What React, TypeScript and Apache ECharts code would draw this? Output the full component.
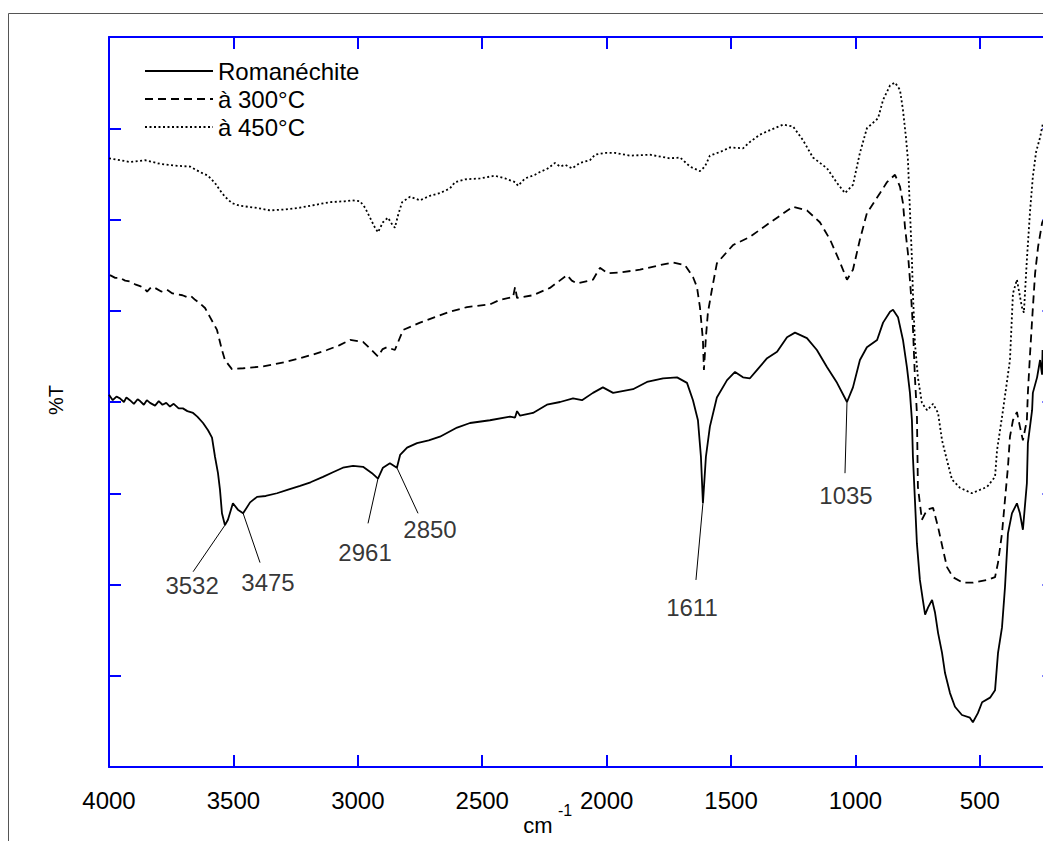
import { useEffect, useRef } from 'react';
import * as echarts from 'echarts';

const SERIES_NAMES = ['Romanéchite', 'à 300°C', 'à 450°C'];
const X_TICKS = [500, 1000, 1500, 2000, 2500, 3000, 3500, 4000];
const X_MIN = 200;
const X_MAX = 4000;
const Y_MIN = 0;
const Y_MAX = 8;

const romanechite: [number, number][] = [
  [4000, 4.08], [3985, 4.02], [3970, 4.06], [3956, 4.04], [3940, 4.0], [3930, 4.05], [3916, 4.02],
  [3900, 3.98], [3885, 4.03], [3875, 4.01], [3860, 3.97], [3848, 4.02], [3835, 3.99], [3815, 3.96],
  [3800, 4.01], [3785, 3.97], [3770, 3.99], [3755, 3.95], [3740, 3.98], [3720, 3.93], [3703, 3.93],
  [3685, 3.9], [3662, 3.88], [3645, 3.84], [3622, 3.77], [3602, 3.69], [3586, 3.61], [3574, 3.4],
  [3562, 3.22], [3554, 3.04], [3546, 2.78], [3534, 2.65], [3522, 2.71], [3502, 2.89], [3482, 2.82],
  [3461, 2.78], [3433, 2.9], [3405, 2.96], [3370, 2.97], [3325, 3.0], [3280, 3.04], [3232, 3.08],
  [3190, 3.12], [3140, 3.18], [3100, 3.23], [3060, 3.28], [3019, 3.3], [2979, 3.29], [2943, 3.22],
  [2919, 3.16], [2899, 3.28], [2871, 3.33], [2843, 3.28], [2830, 3.42], [2802, 3.5], [2762, 3.55],
  [2715, 3.58], [2670, 3.62], [2601, 3.72], [2549, 3.77], [2469, 3.8], [2388, 3.84], [2368, 3.83],
  [2360, 3.9], [2348, 3.85], [2296, 3.88], [2240, 3.97], [2187, 4.0], [2135, 4.04], [2099, 4.02],
  [2055, 4.1], [2015, 4.16], [1974, 4.1], [1894, 4.14], [1838, 4.22], [1773, 4.26], [1717, 4.27],
  [1677, 4.21], [1653, 4.02], [1633, 3.8], [1621, 3.4], [1613, 2.89], [1601, 3.4], [1585, 3.73],
  [1557, 4.05], [1516, 4.24], [1484, 4.33], [1452, 4.27], [1424, 4.26], [1396, 4.35], [1355, 4.48],
  [1315, 4.55], [1275, 4.71], [1243, 4.76], [1195, 4.7], [1155, 4.57], [1114, 4.38], [1074, 4.21],
  [1034, 4.0], [1010, 4.16], [982, 4.46], [954, 4.6], [913, 4.68], [889, 4.87], [861, 4.99],
  [849, 5.01], [829, 4.93], [809, 4.68], [793, 4.38], [781, 4.1], [773, 3.8], [769, 3.4], [761, 2.93],
  [753, 2.45], [741, 2.05], [729, 1.83], [720, 1.67], [708, 1.75], [692, 1.83], [680, 1.69],
  [668, 1.47], [652, 1.25], [640, 1.03], [620, 0.81], [600, 0.66], [572, 0.57], [540, 0.54],
  [528, 0.49], [508, 0.59], [491, 0.71], [459, 0.76], [439, 0.84], [427, 1.25], [411, 1.53],
  [399, 1.97], [387, 2.56], [371, 2.78], [351, 2.89], [339, 2.78], [327, 2.6], [311, 3.11],
  [307, 3.55], [290, 3.91], [287, 4.1], [270, 4.27], [258, 4.46], [250, 4.3], [248, 4.57], [246, 4.57],
];

const heated300: [number, number][] = [
  [3996, 5.39], [3975, 5.36], [3956, 5.36], [3935, 5.33], [3916, 5.32], [3895, 5.29], [3875, 5.27],
  [3860, 5.25], [3847, 5.21], [3830, 5.26], [3815, 5.25], [3790, 5.21], [3767, 5.23], [3745, 5.19],
  [3727, 5.18], [3705, 5.17], [3687, 5.15], [3670, 5.16], [3654, 5.12], [3634, 5.08], [3614, 5.03],
  [3594, 4.93], [3566, 4.79], [3546, 4.57], [3534, 4.46], [3506, 4.36], [3460, 4.37], [3421, 4.38],
  [3380, 4.39], [3341, 4.41], [3290, 4.44], [3232, 4.48], [3180, 4.52], [3124, 4.57], [3075, 4.62],
  [3031, 4.68], [2979, 4.66], [2945, 4.57], [2919, 4.5], [2900, 4.58], [2883, 4.6], [2851, 4.57],
  [2818, 4.79], [2750, 4.87], [2690, 4.93], [2630, 4.99], [2561, 5.04], [2469, 5.07], [2429, 5.12],
  [2376, 5.15], [2368, 5.26], [2360, 5.14], [2296, 5.17], [2228, 5.25], [2159, 5.39], [2140, 5.33],
  [2119, 5.3], [2055, 5.34], [2027, 5.47], [1995, 5.41], [1946, 5.42], [1866, 5.45], [1786, 5.5],
  [1733, 5.53], [1685, 5.5], [1653, 5.37], [1637, 5.26], [1625, 5.04], [1613, 4.68], [1609, 4.35],
  [1601, 4.71], [1593, 4.98], [1577, 5.23], [1557, 5.52], [1492, 5.72], [1424, 5.81], [1331, 5.99],
  [1251, 6.14], [1195, 6.1], [1143, 5.97], [1102, 5.78], [1062, 5.53], [1034, 5.34], [1010, 5.45],
  [982, 5.78], [954, 6.07], [901, 6.29], [873, 6.41], [841, 6.49], [821, 6.36], [809, 6.18],
  [801, 5.92], [789, 5.63], [777, 5.19], [769, 4.82], [761, 4.27], [753, 3.88], [749, 3.07],
  [733, 2.71], [712, 2.82], [688, 2.84], [668, 2.63], [648, 2.38], [632, 2.19], [608, 2.08],
  [568, 2.02], [528, 2.02], [471, 2.05], [439, 2.08], [427, 2.24], [411, 2.56], [399, 2.93],
  [387, 3.29], [379, 3.62], [367, 3.8], [351, 3.89], [339, 3.73], [327, 3.58], [311, 3.8],
  [307, 4.1], [298, 4.54], [290, 4.9], [278, 5.41], [266, 5.7], [250, 5.96], [246, 5.99],
];

const heated450: [number, number][] = [
  [4000, 6.67], [3956, 6.65], [3916, 6.63], [3855, 6.65], [3795, 6.61], [3735, 6.59], [3674, 6.58],
  [3634, 6.52], [3602, 6.48], [3574, 6.4], [3554, 6.32], [3534, 6.25], [3506, 6.18], [3474, 6.15],
  [3413, 6.13], [3353, 6.1], [3293, 6.11], [3232, 6.13], [3172, 6.16], [3112, 6.19], [3052, 6.2],
  [3023, 6.21], [2991, 6.2], [2971, 6.13], [2951, 6.02], [2931, 5.91], [2919, 5.86], [2899, 5.97],
  [2879, 6.02], [2863, 5.95], [2851, 5.91], [2838, 6.05], [2822, 6.19], [2790, 6.25], [2750, 6.21],
  [2710, 6.26], [2670, 6.29], [2630, 6.34], [2609, 6.41], [2569, 6.44], [2509, 6.45], [2449, 6.48],
  [2408, 6.45], [2368, 6.41], [2356, 6.37], [2328, 6.45], [2288, 6.49], [2268, 6.52], [2236, 6.56],
  [2208, 6.62], [2187, 6.58], [2167, 6.6], [2139, 6.56], [2107, 6.62], [2067, 6.65], [2047, 6.71],
  [2007, 6.73], [1966, 6.73], [1906, 6.7], [1826, 6.71], [1745, 6.67], [1705, 6.68], [1685, 6.63],
  [1665, 6.58], [1625, 6.53], [1605, 6.58], [1585, 6.7], [1544, 6.74], [1504, 6.79], [1452, 6.78],
  [1424, 6.85], [1384, 6.93], [1343, 6.98], [1291, 7.04], [1251, 7.02], [1211, 6.87], [1171, 6.68],
  [1114, 6.56], [1074, 6.4], [1042, 6.29], [1010, 6.38], [982, 6.73], [954, 7.0], [909, 7.11],
  [889, 7.31], [861, 7.47], [841, 7.5], [821, 7.42], [809, 7.2], [797, 6.9], [789, 6.65], [781, 6.1],
  [773, 5.56], [769, 5.19], [761, 4.65], [749, 4.27], [733, 3.99], [712, 3.91], [688, 3.98],
  [668, 3.88], [652, 3.58], [632, 3.36], [612, 3.15], [580, 3.06], [532, 3.0], [471, 3.07],
  [439, 3.18], [431, 3.47], [419, 3.69], [407, 3.91], [379, 4.46], [367, 5.19], [351, 5.34],
  [331, 5.04], [323, 4.98], [311, 5.56], [298, 6.1], [287, 6.47], [274, 6.74], [258, 6.9], [246, 7.06],
];

const peakLabels = ['3532', '3475', '2961', '2850', '1611', '1035'];
const peakX = [3534, 3461, 2919, 2843, 1613, 1034];
const peakY = [2.65, 2.78, 3.16, 3.28, 2.89, 4.0];
const leaderEndX = [3662, 3393, 2959, 2758, 1641, 1042];
const leaderEndY = [2.14, 2.24, 2.67, 2.78, 2.05, 3.22];
const labelX = [3666, 3361, 2971, 2710, 1657, 1038];
const labelY = [1.99, 2.02, 2.35, 2.6, 1.75, 2.97];

const FONT = '"Liberation Sans", Arial, Helvetica, sans-serif';
const AXIS_BLUE = '#0000ff';

export default function App() {
  const ref = useRef<HTMLDivElement>(null);

  useEffect(() => {
    document.body.style.overflow = 'hidden';
    if (!ref.current) return;
    const chart = echarts.init(ref.current, undefined, { renderer: 'svg' });

    const axisLine = { show: true, onZero: false, lineStyle: { color: AXIS_BLUE, width: 2 } };
    const tick = { show: true, inside: true, length: 12, lineStyle: { color: AXIS_BLUE, width: 2 } };

    const lineStyles: any[] = [
      { color: '#000', width: 1.8, type: 'solid' },
      { color: '#000', width: 1.8, type: [8, 5] },
      { color: '#000', width: 1.8, type: [2, 2.5] },
    ];
    const datasets = [romanechite, heated300, heated450];

    const mainSeries = SERIES_NAMES.map((name, i) => ({
      name,
      type: 'line',
      data: datasets[i],
      showSymbol: false,
      symbol: 'none',
      lineStyle: lineStyles[i],
      itemStyle: { color: '#000' },
      z: 3,
    }));

    const leaderSeries = peakLabels.map((lab, i) => ({
      name: 'leader ' + lab,
      type: 'line',
      data: [
        [peakX[i], peakY[i]],
        [leaderEndX[i], leaderEndY[i]],
      ],
      showSymbol: false,
      symbol: 'none',
      lineStyle: { color: '#000', width: 1 },
      z: 4,
    }));

    const labelSeries = {
      name: 'peak labels',
      type: 'scatter',
      symbol: 'circle',
      symbolSize: 1,
      itemStyle: { color: 'rgba(0,0,0,0)' },
      data: peakLabels.map((lab, i) => ({ name: lab, value: [labelX[i], labelY[i]] })),
      label: {
        show: true,
        position: 'inside',
        formatter: (p: any) => p.name,
        fontSize: 24,
        fontFamily: FONT,
        color: '#000',
      },
      z: 5,
    };

    chart.setOption({
      animation: false,
      backgroundColor: '#ffffff',
      grid: { left: 101, top: 29, width: 945.5, height: 730, containLabel: false },
      legend: {
        data: SERIES_NAMES,
        orient: 'vertical',
        left: 131,
        top: 46,
        itemWidth: 68,
        itemHeight: 12,
        itemGap: 4,
        itemStyle: { opacity: 0 },
        textStyle: { fontSize: 24, fontFamily: FONT, color: '#000' },
      },
      xAxis: [
        {
          type: 'value',
          min: X_MIN,
          max: X_MAX,
          inverse: true,
          position: 'bottom',
          axisLine,
          axisTick: { ...tick, customValues: X_TICKS },
          axisLabel: {
            customValues: X_TICKS,
            formatter: (v: number) => String(v),
            fontSize: 24,
            fontFamily: FONT,
            color: '#000',
            margin: 21,
          },
          splitLine: { show: false },
        },
        {
          type: 'value',
          min: X_MIN,
          max: X_MAX,
          inverse: true,
          position: 'top',
          axisLine,
          axisTick: { ...tick, customValues: X_TICKS },
          axisLabel: { show: false },
          splitLine: { show: false },
        },
      ],
      yAxis: [
        {
          type: 'value',
          min: Y_MIN,
          max: Y_MAX,
          interval: 1,
          position: 'left',
          axisLine,
          axisTick: tick,
          axisLabel: { show: false },
          splitLine: { show: false },
        },
        {
          type: 'value',
          min: Y_MIN,
          max: Y_MAX,
          interval: 1,
          position: 'right',
          axisLine,
          axisTick: tick,
          axisLabel: { show: false },
          splitLine: { show: false },
        },
      ],
      graphic: [
        {
          type: 'polyline',
          shape: { points: [[0.5, 840], [0.5, 5.5], [1100, 5.5]] },
          style: { stroke: '#555', lineWidth: 1, fill: 'none' },
          silent: true,
        },
        {
          type: 'text',
          x: 48,
          y: 392,
          rotation: Math.PI / 2,
          style: { text: '%T', fontSize: 20, fontFamily: FONT, fill: '#000', align: 'center', verticalAlign: 'middle' },
        },
        {
          type: 'text',
          x: 530,
          y: 817,
          style: { text: 'cm', fontSize: 22, fontFamily: FONT, fill: '#000', align: 'center', verticalAlign: 'middle' },
        },
        {
          type: 'text',
          x: 557,
          y: 802,
          style: { text: '-1', fontSize: 16, fontFamily: FONT, fill: '#000', align: 'center', verticalAlign: 'middle' },
        },
      ],
      series: [...mainSeries, ...leaderSeries, labelSeries],
    });

    return () => {
      chart.dispose();
    };
  }, []);

  return (
    <div style={{ width: 1043, height: 833, overflow: 'hidden', position: 'relative' }}>
      <div ref={ref} style={{ width: 1100, height: 833 }} />
    </div>
  );
}
